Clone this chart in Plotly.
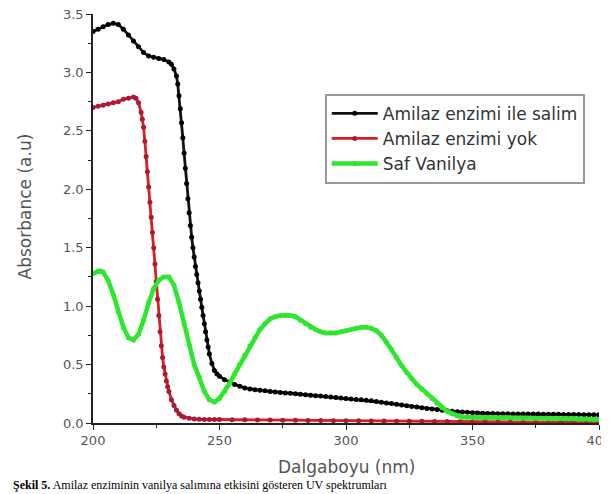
import plotly.graph_objects as go

# ---- Data ----
wl_black = [200, 202, 204, 206, 208, 210, 212, 214, 216, 218, 220, 222, 224, 226, 228, 230,
            231, 232, 233, 233.5, 234, 234.5, 235, 235.5, 236, 236.5, 237, 237.5, 238, 238.5,
            239, 239.5, 240, 240.5, 241, 241.5, 242, 242.5, 243, 243.5, 244, 244.5, 245, 245.5,
            246, 247, 248, 249, 250, 252, 254, 256, 258, 260, 262, 264, 266, 268, 270, 272, 274,
            276, 278, 280, 282, 284, 286, 288, 290, 292, 294, 296, 298, 300, 302, 304, 306, 308,
            310, 312, 314, 316, 318, 320, 322, 324, 326, 328, 330, 332, 334, 336, 338, 340, 342,
            344, 346, 348, 350, 352, 354, 356, 358, 360, 362, 364, 366, 368, 370, 372, 374, 376,
            378, 380, 382, 384, 386, 388, 390, 392, 394, 396, 398, 400]
abs_black = [3.35, 3.37, 3.39, 3.41, 3.42, 3.41, 3.37, 3.32, 3.27, 3.22, 3.17, 3.14, 3.13, 3.12, 3.11, 3.09,
             3.07, 3.03, 2.97, 2.90, 2.80, 2.69, 2.57, 2.44, 2.31, 2.18, 2.05, 1.92, 1.80, 1.69,
             1.59, 1.50, 1.42, 1.34, 1.27, 1.20, 1.13, 1.06, 0.99, 0.92, 0.85, 0.78, 0.71, 0.65,
             0.59, 0.51, 0.45, 0.42, 0.40, 0.37, 0.35, 0.33, 0.315, 0.30, 0.29, 0.285, 0.28, 0.275, 0.27, 0.265, 0.26,
             0.257, 0.254, 0.25, 0.246, 0.242, 0.238, 0.234, 0.23, 0.226, 0.222, 0.218, 0.214, 0.21, 0.206, 0.202, 0.198, 0.194,
             0.19, 0.184, 0.178, 0.172, 0.166, 0.16, 0.154, 0.148, 0.142, 0.136, 0.13, 0.125, 0.12, 0.115, 0.11, 0.105, 0.10,
             0.097, 0.094, 0.091, 0.088, 0.086, 0.084, 0.082, 0.081, 0.080, 0.079, 0.079, 0.078, 0.078, 0.077, 0.077, 0.076, 0.076,
             0.075, 0.075, 0.074, 0.074, 0.073, 0.073, 0.072, 0.072, 0.071, 0.071, 0.070, 0.070]

wl_red = [200, 202, 204, 206, 208, 210, 212, 214, 216, 217, 218, 219, 219.5, 220, 220.5, 221,
          221.5, 222, 222.5, 223, 223.5, 224, 224.5, 225, 225.5, 226, 226.5, 227, 227.5, 228,
          228.5, 229, 229.5, 230, 231, 232, 233, 234, 235, 236, 238, 240, 242, 244, 246, 248,
          250, 255, 260, 265, 270, 275, 280, 285, 290, 295, 300, 305, 310, 315, 320, 325, 330,
          335, 340, 345, 350, 355, 360, 365, 370, 375, 380, 385, 390, 395, 400]
abs_red = [2.70, 2.71, 2.72, 2.73, 2.74, 2.75, 2.77, 2.78, 2.79, 2.78, 2.74, 2.66, 2.60, 2.53, 2.41, 2.28,
           2.15, 2.02, 1.89, 1.76, 1.63, 1.50, 1.36, 1.21, 1.06, 0.92, 0.78, 0.66, 0.56, 0.48,
           0.42, 0.36, 0.31, 0.27, 0.20, 0.15, 0.11, 0.08, 0.06, 0.05, 0.04, 0.035, 0.032, 0.03, 0.03, 0.03,
           0.03, 0.028, 0.027, 0.026, 0.025, 0.024, 0.023, 0.022, 0.021, 0.02, 0.02, 0.019, 0.018, 0.017, 0.016, 0.015, 0.014,
           0.013, 0.012, 0.011, 0.010, 0.009, 0.008, 0.007, 0.006, 0.005, 0.005, 0.004, 0.004, 0.003, 0.003]

wl_green = [200, 202, 203, 204, 206, 208, 210, 212, 214, 216, 218, 220, 222, 224, 226, 228, 230,
            232, 234, 236, 238, 240, 242, 244, 246, 248, 250, 252, 254, 256, 258, 260, 262, 264,
            266, 268, 270, 272, 274, 276, 278, 280, 282, 284, 286, 288, 290, 292, 294, 296, 298,
            300, 302, 304, 306, 308, 310, 312, 314, 316, 318, 320, 322, 324, 326, 328, 330, 332,
            334, 336, 338, 340, 342, 344, 346, 348, 350, 352, 354, 356, 358, 360, 362, 364, 366,
            368, 370, 372, 374, 376, 378, 380, 382, 384, 386, 388, 390, 392, 394, 396, 398, 400]
abs_green = [1.28, 1.30, 1.30, 1.29, 1.22, 1.10, 0.95, 0.82, 0.73, 0.71, 0.76, 0.88, 1.03, 1.15, 1.22, 1.25, 1.25,
             1.18, 1.03, 0.85, 0.67, 0.50, 0.39, 0.27, 0.20, 0.18, 0.21, 0.27, 0.34, 0.42, 0.50, 0.58, 0.66, 0.73,
             0.80, 0.85, 0.89, 0.91, 0.92, 0.92, 0.92, 0.91, 0.88, 0.85, 0.82, 0.80, 0.78, 0.77, 0.77, 0.77, 0.78,
             0.79, 0.80, 0.81, 0.82, 0.82, 0.81, 0.79, 0.75, 0.69, 0.63, 0.56, 0.49, 0.43, 0.38, 0.33, 0.29, 0.25,
             0.21, 0.17, 0.13, 0.10, 0.08, 0.06, 0.05, 0.05, 0.05, 0.048, 0.047, 0.046, 0.045, 0.045, 0.044, 0.044, 0.043,
             0.043, 0.042, 0.042, 0.041, 0.041, 0.040, 0.040, 0.039, 0.039, 0.038, 0.037, 0.036, 0.035, 0.034, 0.033, 0.032, 0.030]

series_names = ["Amilaz enzimi ile salim", "Amilaz enzimi yok", "Saf Vanilya"]
x_ticks = [200, 250, 300, 350, 400]
y_ticks = [0.0, 0.5, 1.0, 1.5, 2.0, 2.5, 3.0, 3.5]
x_title = "Dalgaboyu (nm)"
y_title = "Absorbance (a.u)"
caption = "<b>Şekil 5.</b> Amilaz enziminin vanilya salımına etkisini gösteren UV spektrumları"

SANS = "DejaVu Sans, Liberation Sans, Arial"

fig = go.Figure()
fig.add_trace(go.Scatter(x=wl_black, y=abs_black, name=series_names[0], mode="lines+markers",
                         line=dict(color="#111111", width=2.8),
                         marker=dict(color="#000000", size=5)))
fig.add_trace(go.Scatter(x=wl_red, y=abs_red, name=series_names[1], mode="lines+markers",
                         line=dict(color="#d81e1e", width=2.8),
                         marker=dict(color="#a81a36", size=5)))
fig.add_trace(go.Scatter(x=wl_green, y=abs_green, name=series_names[2], mode="lines+markers",
                         line=dict(color="#2ee62e", width=4.5),
                         marker=dict(color="#2ee62e", size=5)))

axis_common = dict(showline=True, linecolor="#222222", linewidth=1.6, ticks="outside",
                   ticklen=5, tickwidth=1.4, tickcolor="#222222", showgrid=False, zeroline=False,
                   mirror=False, ticklabeloverflow="allow", automargin=False,
                   tickfont=dict(family=SANS, size=13, color="#555555"))

fig.update_xaxes(range=[200, 400], tickvals=x_ticks,
                 minor=dict(ticks="outside", ticklen=3, tickwidth=1.2, tickcolor="#222222", dtick=25, tick0=200),
                 **axis_common)
fig.update_yaxes(range=[0, 3.5], tickvals=y_ticks, tickformat=".1f",
                 minor=dict(ticks="outside", ticklen=3, tickwidth=1.2, tickcolor="#222222", dtick=0.25, tick0=0),
                 **axis_common)

# The page body has an 8px margin, so the figure is sized to fill the rest of the window.
fig.update_layout(
    width=601, height=486,
    margin=dict(l=85, r=10, t=6, b=71, autoexpand=False),
    paper_bgcolor="white", plot_bgcolor="white",
    font=dict(family=SANS, color="#333333"),
    showlegend=True,
    legend=dict(x=0.458, y=0.805, xanchor="left", yanchor="top",
                bgcolor="white", bordercolor="#999999", borderwidth=2,
                font=dict(family=SANS, size=17, color="#333333"), itemwidth=46),
    annotations=[
        dict(text=x_title, x=0.5, y=-0.1076, xref="paper", yref="paper", xanchor="center", yanchor="middle",
             showarrow=False, font=dict(family=SANS, size=17, color="#555555")),
        dict(text=y_title, x=-0.134, y=0.53, xref="paper", yref="paper", xanchor="center", yanchor="middle",
             textangle=-90, showarrow=False, font=dict(family=SANS, size=17, color="#555555")),
        dict(text=caption, x=-0.162, y=-0.13, xref="paper", yref="paper", xanchor="left", yanchor="top",
             showarrow=False, font=dict(family="Liberation Serif, Times New Roman", size=12, color="#000000")),
    ],
)

fig.write_html("out.html")
